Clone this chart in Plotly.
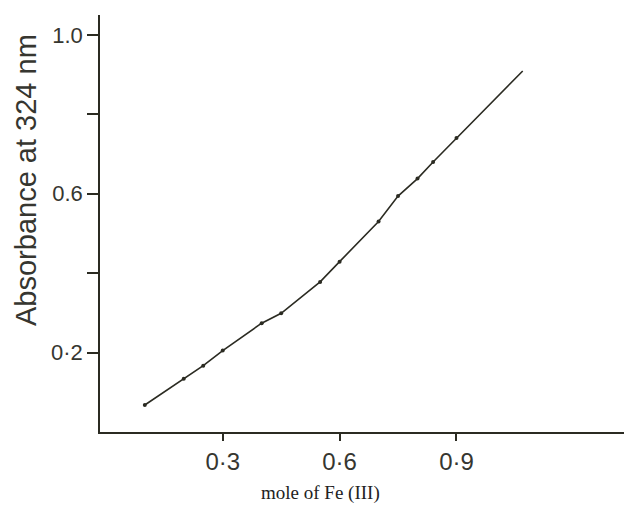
import plotly.graph_objects as go

mole_fe = [0.10, 0.20, 0.25, 0.30, 0.40, 0.45, 0.55, 0.60, 0.70, 0.75, 0.80, 0.84, 0.90, 1.07]
absorbance = [0.068, 0.134, 0.167, 0.205, 0.274, 0.299, 0.378, 0.429, 0.530, 0.594, 0.638, 0.680, 0.740, 0.909]

x_tick_vals = [0.3, 0.6, 0.9]
x_tick_text = ["0·3", "0·6", "0·9"]
y_tick_vals = [0.2, 0.4, 0.6, 0.8, 1.0]
y_tick_text = ["0·2", "", "0.6", "", "1.0"]

ink = "#2b2b22"
txt = "#363630"

W, H = 624, 505
ML, MR, MT, MB = 100, 0, 15, 73
PW, PH = W - ML - MR, H - MT - MB

fig = go.Figure()
fig.add_trace(go.Scatter(
    x=mole_fe, y=absorbance, mode="lines",
    line=dict(color=ink, width=1.6), showlegend=False, hoverinfo="skip"))
fig.add_trace(go.Scatter(
    x=mole_fe[:-1], y=absorbance[:-1], mode="markers",
    marker=dict(color=ink, size=4), showlegend=False))

def px_x(p):
    return (p - ML) / PW

def px_y(p):
    return (H - MB - p) / PH

fig.update_layout(
    width=W, height=H,
    paper_bgcolor="white", plot_bgcolor="white",
    margin=dict(l=ML, r=MR, t=MT, b=MB, autoexpand=False),
    font=dict(family="Liberation Sans, Arial, sans-serif", color=txt),
    xaxis=dict(range=[-0.015, 1.33], showgrid=False, zeroline=False, automargin=False,
               showline=True, linecolor=ink, linewidth=1.5,
               tickmode="array", tickvals=x_tick_vals, ticktext=x_tick_text,
               ticks="outside", ticklen=7, tickwidth=1.5, tickcolor=ink,
               tickfont=dict(size=24, color=txt)),
    yaxis=dict(range=[0, 1.05], showgrid=False, zeroline=False, automargin=False,
               showline=True, linecolor=ink, linewidth=1.5,
               tickmode="array", tickvals=y_tick_vals, ticktext=y_tick_text,
               ticks="outside", ticklen=11, tickwidth=1.5, tickcolor=ink,
               tickfont=dict(size=22, color=txt)),
    annotations=[
        dict(text="Absorbance at 324 nm", x=px_x(26), y=px_y(180), xref="paper", yref="paper",
             showarrow=False, textangle=-90, xanchor="center", yanchor="middle",
             font=dict(size=29, color=txt)),
        dict(text="mole of Fe (III)", x=px_x(320), y=px_y(493), xref="paper", yref="paper",
             showarrow=False, xanchor="center", yanchor="middle",
             font=dict(family="Liberation Serif, Times New Roman, serif", size=19, color="#222222")),
    ],
)

fig.write_html("out.html", config={"displayModeBar": False},
               post_script="document.body.style.margin='0';")
